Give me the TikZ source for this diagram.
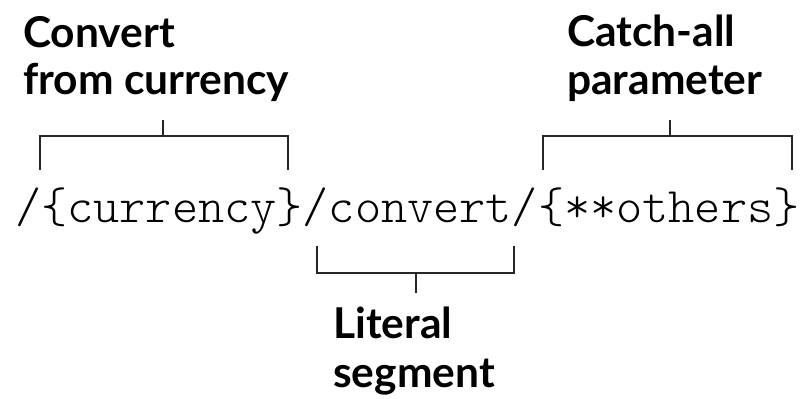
\documentclass[tikz,border=0pt]{standalone}
\usepackage{fontspec}
\setmainfont{Lato}
\newfontfamily\codefont{Latin Modern Mono Light}
\begin{document}
\begin{tikzpicture}[x=1pt,y=-1pt,
  lbl/.style={anchor=base west,inner sep=0pt,font=\fontsize{42.5}{46}\selectfont\bfseries},
  code/.style={anchor=base west,inner sep=0pt,font=\fontsize{49.8}{52}\selectfont\codefont},
  brk/.style={draw=black!85,line width=2.4pt,line cap=butt,line join=miter}]
\useasboundingbox (0,0) rectangle (801,399);
\node[code] (path) at (15,222) {/\{currency\}/convert/\{**others\}};
% labels
\node[lbl] (c1) at (23,47) {Convert};
\node[lbl] (c2) at (23,94) {from currency};
\node[lbl] (k1) at (567,46) {Catch-all};
\node[lbl] (k2) at (567,94) {parameter};
\node[lbl] (l1) at (333,338) {Literal};
\node[lbl] (l2) at (333,387) {segment};
% brackets
\coordinate (b1a) at (40,170); \coordinate (b1b) at (288,170);
\coordinate (b1t) at (163,120);
\draw[brk] (b1a) -- (40,136) -- (288,136) -- (b1b);
\draw[brk] (163,136) -- (b1t);
\coordinate (b2a) at (543,170); \coordinate (b2b) at (792,170);
\coordinate (b2t) at (670,120);
\draw[brk] (b2a) -- (543,136) -- (792,136) -- (b2b);
\draw[brk] (670,136) -- (b2t);
\coordinate (b3a) at (317,246); \coordinate (b3b) at (514,246);
\coordinate (b3t) at (416,293);
\draw[brk] (b3a) -- (317,273) -- (514,273) -- (b3b);
\draw[brk] (416,273) -- (b3t);
\end{tikzpicture}
\end{document}
